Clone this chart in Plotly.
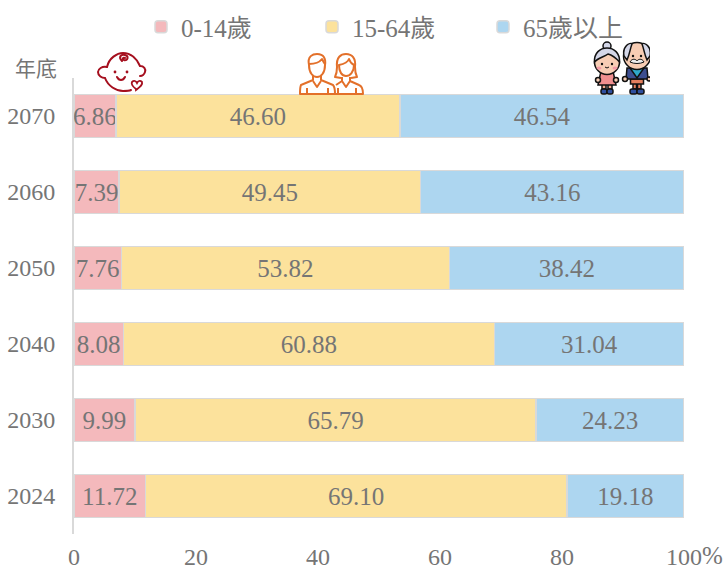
import base64
import plotly.graph_objects as go

years = ["2024", "2030", "2040", "2050", "2060", "2070"]
age_0_14 = [11.72, 9.99, 8.08, 7.76, 7.39, 6.86]
age_15_64 = [69.10, 65.79, 60.88, 53.82, 49.45, 46.60]
age_65_up = [19.18, 24.23, 31.04, 38.42, 43.16, 46.54]
series_names = ["0-14歲", "15-64歲", "65歲以上"]
series_colors = ["#F4B9BC", "#FCE29C", "#ADD6F0"]
x_ticks = [0, 20, 40, 60, 80, 100]
x_labels = ["0", "20", "40", "60", "80", "100"]

FONT = "'Liberation Serif', 'Noto Sans CJK TC', serif"
GREY = "#757575"
W, H = 728, 569
L, R, T, B = 74, 684, 78, 534


def uri(svg):
    return "data:image/svg+xml;base64," + base64.b64encode(svg.encode()).decode()


baby = """<svg xmlns='http://www.w3.org/2000/svg' viewBox='0 0 52 42'>
<g fill='none' stroke='#A50F1E' stroke-width='2' stroke-linecap='round'>
<path d='M11 15 C13 6 21 1 27 1 C35 1 41 7 44 14 C48 14 50 17 49 20 C48 23 46 24 44 24'/>
<path d='M11 15 C6 14 2 17 2 20 C2 24 6 26 9 26 C12 34 20 39 27 39 C30 39 33 39 35 38'/>
<path d='M26 9 C22 5 25 2 29 3 C33 4 32 9 28 8 C26 7 27 5 29 6'/>
<path d='M21 25 C23 29 27 29 29 25'/>
<path d='M40 37 C36 34 35 32 36 30 C38 28 40 29 41 31 C42 29 44 28 46 30 C47 33 44 35 40 38 Z' stroke-width='1.8'/>
</g>
<circle cx='19' cy='20' r='1.4' fill='#A50F1E'/><circle cx='31' cy='20' r='1.4' fill='#A50F1E'/>
</svg>"""

adults = """<svg xmlns='http://www.w3.org/2000/svg' viewBox='0 0 66 42'>
<g fill='none' stroke='#E3702A' stroke-width='2' stroke-linejoin='round'>
<path d='M10 12 C8 3 14 1 18 1 C25 1 27 6 26 12 C26 20 22 24 18 24 C14 24 10 20 10 12 Z'/>
<path d='M10 11 C14 11 20 10 23 6 C24 8 25 10 26 11'/>
<path d='M14 23 L14 27 L2 32 C1 34 1 38 1 41 L36 41 C36 38 36 34 34 32 L22 27 L22 23'/>
<path d='M14 28 L18 34 L22 28 M8 41 L8 35 M29 41 L29 35'/>
<path d='M38 14 C37 4 42 1 47 1 C53 1 57 5 56 14 C56 19 57 22 58 24 L52 25 M38 14 C38 19 37 22 36 24 L42 25'/>
<path d='M40 12 C45 11 49 9 50 6 C51 9 53 11 55 12 C55 19 51 23 47 23 C43 23 40 19 40 12 Z'/>
<path d='M43 24 L43 28 L37 32 M51 24 L51 28 L60 32 C63 33 64 37 64 41 L31 41 M43 28 L47 34 L51 28 M39 41 L39 35 M57 41 L57 35'/>
</g></svg>"""

elders = """<svg xmlns='http://www.w3.org/2000/svg' viewBox='0 0 58 54'>
<g stroke='#111' stroke-width='1.5'>
<rect x='10' y='43' width='4' height='5' fill='#F2A98F'/><rect x='16' y='43' width='4' height='5' fill='#F2A98F'/>
<rect x='9' y='48' width='6' height='5' rx='2' fill='#2F4F9E'/><rect x='15' y='48' width='6' height='5' rx='2' fill='#2F4F9E'/>
<path d='M9 30 H21 L24 44 H6 Z' fill='#F08F8F'/>
<circle cx='6' cy='39' r='2.5' fill='#F7CDB4'/><circle cx='24' cy='39' r='2.5' fill='#F7CDB4'/>
<circle cx='15' cy='5' r='4' fill='#D4D7E8'/>
<circle cx='15' cy='21' r='12.5' fill='#F7CDB4'/>
<path d='M2.5 21 C2 12 8 7 15 7 C22 7 28 12 27.5 21 C24 17 20 14 16 13 C12 16 6 17 2.5 21 Z' fill='#D4D7E8'/>
<rect x='41' y='40' width='3.5' height='8' fill='#E37F5E'/><rect x='45.5' y='40' width='3.5' height='8' fill='#E37F5E'/>
<rect x='38.5' y='38' width='13' height='5' fill='#E37F5E'/>
<rect x='38' y='48' width='7' height='5' rx='2' fill='#2F4F9E'/><rect x='45' y='48' width='7' height='5' rx='2' fill='#2F4F9E'/>
<path d='M35 27 H55 L56 38 H34 Z' fill='#3D4E8F'/>
<path d='M38 27 H52 L45 37 Z' fill='#2FA8C9'/>
<circle cx='33' cy='38' r='2.5' fill='#F7CDB4'/><circle cx='57' cy='38' r='2' fill='#F7CDB4'/>
<circle cx='45' cy='15' r='13.5' fill='#F7CDB4'/>
<path d='M32 15 C30 5 38 1 40 3 C38 8 38 12 35 19 Z M58 15 C60 5 52 1 50 3 C52 8 52 12 55 19 Z' fill='#D4D7E8'/>
</g>
<path d='M38 21 C40 17 44 18 45 20 C46 18 50 17 52 21 C48 23 42 23 38 21 Z' fill='#EEE' stroke='#111' stroke-width='1'/>
<circle cx='41' cy='15' r='1.2' fill='#111'/><circle cx='49' cy='15' r='1.2' fill='#111'/>
<circle cx='10' cy='23' r='1.2' fill='#111'/><circle cx='20' cy='23' r='1.2' fill='#111'/>
<ellipse cx='7' cy='27' rx='2.5' ry='1.5' fill='#F39AA5'/><ellipse cx='23' cy='27' rx='2.5' ry='1.5' fill='#F39AA5'/>
<path d='M13 26 Q15 28 17 26' stroke='#111' fill='none'/>
</svg>"""


def px(x):
    return (x - L) / (R - L)


def py(y):
    return (B - y) / (B - T)


def icon(svg, x0, y0, x1, y1):
    return dict(
        source=uri(svg), xref="paper", yref="paper",
        x=px(x0), y=py(y0),
        sizex=(x1 - x0) / (R - L), sizey=(y1 - y0) / (B - T),
        xanchor="left", yanchor="top", sizing="stretch", layer="above",
    )


fig = go.Figure()
for name, vals, color in zip(series_names, [age_0_14, age_15_64, age_65_up], series_colors):
    fig.add_trace(go.Bar(
        name=name, y=years, x=vals, orientation="h",
        marker=dict(color=color, line=dict(color="#D9D9D9", width=1.5), cornerradius=2),
        texttemplate="%{x:.2f}", textposition="inside", insidetextanchor="middle",
        constraintext="none", textangle=0,
        insidetextfont=dict(family=FONT, size=25, color=GREY),
        cliponaxis=False, hoverinfo="y+x+name",
    ))

fig.update_layout(
    width=W, height=H, autosize=False,
    margin=dict(l=L, r=W - R, t=T, b=H - B, pad=0, autoexpand=False),
    paper_bgcolor="white", plot_bgcolor="white",
    barmode="stack", bargap=0.43,
    font=dict(family=FONT, size=24, color=GREY),
    legend=dict(
        orientation="h", x=px(141), xanchor="left",
        y=py(4), yanchor="top",
        entrywidth=126, entrywidthmode="pixels", itemclick=False,
        font=dict(family=FONT, size=25, color=GREY), traceorder="normal",
        bgcolor="rgba(0,0,0,0)",
    ),
    xaxis=dict(
        range=[0, 100.01], tickmode="array", tickvals=x_ticks, ticktext=x_labels,
        showgrid=False, zeroline=False, showline=False, ticks="", automargin=False,
        tickfont=dict(family=FONT, size=24, color=GREY), ticklabelstandoff=6,
    ),
    yaxis=dict(
        type="category", categoryorder="array", categoryarray=years, automargin=False,
        showgrid=False, zeroline=False, showline=True, linecolor="#D9D9D9", linewidth=2,
        ticks="", tickfont=dict(family=FONT, size=24, color=GREY), ticklabelstandoff=12,
    ),
    annotations=[
        dict(text="年底", xref="paper", yref="paper", x=px(36), y=py(69),
             showarrow=False, xanchor="center", yanchor="middle",
             font=dict(family=FONT, size=21, color=GREY)),
        dict(text="%", xref="paper", yref="paper", x=px(701), y=py(555),
             showarrow=False, xanchor="left", yanchor="middle", borderpad=0,
             font=dict(family=FONT, size=25, color=GREY)),
    ],
    images=[
        icon(baby, 96, 52, 148, 94),
        icon(adults, 299, 53, 365, 95),
        icon(elders, 592, 41, 650, 95),
    ],
)

fig.write_html(
    "out.html",
    config={"displayModeBar": False},
    post_script="document.body.style.margin='0';document.body.style.overflow='hidden';",
)
